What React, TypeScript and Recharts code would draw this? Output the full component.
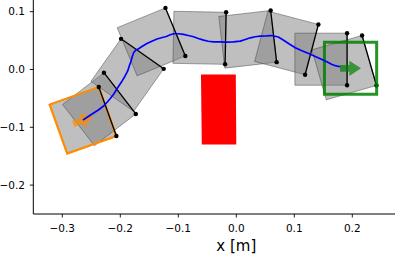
import { ComposedChart, Scatter, XAxis, YAxis } from 'recharts'

// object poses along the push (centre x, centre y in m, heading in degrees)
const boxX = [-0.2643, -0.2364, -0.1879, -0.1466, -0.0634, 0.0197, 0.0866, 0.146, 0.186]
const boxY = [-0.0879, -0.0687, -0.0097, 0.0478, 0.0548, 0.0522, 0.0459, 0.0178, 0.0032]
const boxHeading = [19.7, 37.6, 54.8, 22.4, -1.1, 6.6, -14.8, 0, 16]
const BOX_SIDE = 0.09

// trajectory of the object centre
const pathX = [
  -0.2643, -0.2552, -0.246, -0.2379, -0.2288, -0.2224, -0.2172, -0.2112, -0.2057, -0.2009, -0.1971,
  -0.1922, -0.1874, -0.1845, -0.1816, -0.1793, -0.1771, -0.1733, -0.1684, -0.1621, -0.154, -0.1466,
  -0.1367, -0.1276, -0.1207, -0.1138, -0.1081, -0.1, -0.0909, -0.0828, -0.0736, -0.0655, -0.0564,
  -0.0483, -0.0391, -0.0276, -0.016, -0.0052, 0.0069, 0.0155, 0.0241, 0.0328, 0.0414, 0.0517, 0.0616,
  0.0724, 0.0816, 0.0914, 0.1017, 0.1121, 0.1247, 0.1362, 0.1478, 0.1569, 0.165, 0.1724, 0.1793,
]
const pathY = [
  -0.0874, -0.0813, -0.0753, -0.0701, -0.0631, -0.0562, -0.0502, -0.0424, -0.0334, -0.026, -0.0202,
  -0.0121, -0.0029, 0.0061, 0.0144, 0.0225, 0.0289, 0.0337, 0.0358, 0.0401, 0.045, 0.0484, 0.0528,
  0.0554, 0.0571, 0.06, 0.0618, 0.0618, 0.0606, 0.0588, 0.0566, 0.0536, 0.0507, 0.0488, 0.0479,
  0.0476, 0.0472, 0.0479, 0.049, 0.0519, 0.0548, 0.0566, 0.0576, 0.058, 0.0588, 0.0562, 0.0507,
  0.0441, 0.0375, 0.0329, 0.0277, 0.0225, 0.0173, 0.013, 0.0087, 0.0061, 0.0047,
]

// goal pose
const goalX = 0.197
const goalY = 0.002
const goalHeading = 0
const ARROW_LEN = 0.036

// obstacle corners
const obstacleX = [-0.0609, -0.0009, 0.0, -0.0595]
const obstacleY = [-0.0087, -0.0087, -0.1298, -0.1298]

const xTicks = [-0.3, -0.2, -0.1, 0, 0.1, 0.2]
const yTicks = [-0.2, -0.1, 0, 0.1]

type Pt = { x: number; y: number }

const FONT = "'DejaVu Sans', sans-serif"

function squareCorners(cx: number, cy: number, deg: number): Pt[] {
  const t = (deg * Math.PI) / 180
  const h = BOX_SIDE / 2
  const ux = Math.cos(t) * h
  const uy = Math.sin(t) * h
  const vx = -Math.sin(t) * h
  const vy = Math.cos(t) * h
  return [
    { x: cx + ux + vx, y: cy + uy + vy },
    { x: cx + ux - vx, y: cy + uy - vy },
    { x: cx - ux - vx, y: cy - uy - vy },
    { x: cx - ux + vx, y: cy - uy + vy },
  ]
}

function arrowEnds(cx: number, cy: number, deg: number): Pt[] {
  const t = (deg * Math.PI) / 180
  const dx = (Math.cos(t) * ARROW_LEN) / 2
  const dy = (Math.sin(t) * ARROW_LEN) / 2
  return [
    { x: cx - dx, y: cy - dy },
    { x: cx + dx, y: cy + dy },
  ]
}

const toPath = (pts: Pt[], close: boolean) =>
  pts.map((p, i) => `${i ? 'L' : 'M'}${p.x},${p.y}`).join('') + (close ? 'Z' : '')

const polygon = (style: React.SVGProps<SVGPathElement>) => (props: any) => (
  <path d={toPath(props.points, true)} {...style} />
)

const polyline = (style: React.SVGProps<SVGPathElement>) => (props: any) => (
  <path d={toPath(props.points, false)} fill="none" {...style} />
)

// arrow drawn from tail to tip in pixel space
const arrow = (color: string, opacity: number) => (props: any) => {
  const [a, b] = props.points as Pt[]
  const len = Math.hypot(b.x - a.x, b.y - a.y)
  const dx = (b.x - a.x) / len
  const dy = (b.y - a.y) / len
  const nx = -dy
  const ny = dx
  const w = 3.3
  const hw = 7.6
  const hl = 11.7
  const bx = b.x - dx * hl
  const by = b.y - dy * hl
  const pts = [
    { x: a.x + nx * w, y: a.y + ny * w },
    { x: bx + nx * w, y: by + ny * w },
    { x: bx + nx * hw, y: by + ny * hw },
    b,
    { x: bx - nx * hw, y: by - ny * hw },
    { x: bx - nx * w, y: by - ny * w },
    { x: a.x - nx * w, y: a.y - ny * w },
  ]
  return <path d={toPath(pts, true)} fill={color} fillOpacity={opacity} stroke="none" />
}

const noShape = () => <g />
const blackDot = (props: any) => <circle cx={props.cx} cy={props.cy} r={2.2} fill="#000" />

const fmt = (v: number) => (v < 0 ? '\u2212' : '') + Math.abs(v).toFixed(1)

export default function App() {
  const boxes = boxX.map((x, i) => squareCorners(x, boxY[i], boxHeading[i]))
  const path = pathX.map((x, i) => ({ x, y: pathY[i] }))
  const goal = squareCorners(goalX, goalY, goalHeading)
  const obstacle = obstacleX.map((x, i) => ({ x, y: obstacleY[i] }))

  return (
    <div
      style={{
        position: 'absolute',
        left: 0,
        top: 0,
        width: 395,
        height: 264,
        overflow: 'hidden',
        background: '#fff',
      }}
    >
      <ComposedChart width={440} height={264} margin={{ top: 0, right: 0.7, bottom: 0, left: 0 }}>
        <XAxis
          type="number"
          dataKey="x"
          domain={[-0.35, 0.35]}
          ticks={xTicks}
          allowDataOverflow
          tickFormatter={fmt}
          height={50}
          tickSize={3.5}
          tickMargin={6.9}
          axisLine={{ stroke: '#000', strokeWidth: 1 }}
          tickLine={{ stroke: '#000', strokeWidth: 0.9 }}
          tick={{ fontSize: 10.5, fill: '#000', fontFamily: FONT }}
          label={{ value: 'x [m]', position: 'insideBottom', offset: 13, fontSize: 15, fill: '#000', fontFamily: FONT }}
        />
        <YAxis
          type="number"
          dataKey="y"
          domain={[-0.25, 0.1202]}
          ticks={yTicks}
          allowDataOverflow
          tickFormatter={fmt}
          width={33.3}
          tickSize={3.5}
          tickMargin={4.8}
          axisLine={{ stroke: '#000', strokeWidth: 1 }}
          tickLine={{ stroke: '#000', strokeWidth: 0.9 }}
          tick={{ fontSize: 10.5, fill: '#000', fontFamily: FONT }}
        />
        <Scatter
          data={obstacle}
          line={polygon({ fill: '#ff0000', stroke: 'none' })}
          shape={noShape}
          isAnimationActive={false}
        />
        {boxes.map((c, i) => (
          <Scatter
            key={`box-${i}`}
            data={c}
            line={polygon({
              fill: '#808080',
              fillOpacity: 0.5,
              stroke: '#404040',
              strokeOpacity: 0.6,
              strokeWidth: 0.8,
            })}
            shape={noShape}
            isAnimationActive={false}
          />
        ))}
        <Scatter
          data={boxes[0]}
          line={polygon({ fill: 'none', stroke: '#ff8c00', strokeWidth: 2.2, strokeLinejoin: 'miter' })}
          shape={noShape}
          isAnimationActive={false}
        />
        {boxes.map((c, i) => (
          <Scatter
            key={`edge-${i}`}
            data={c.slice(0, 2)}
            line={polyline({ stroke: '#000', strokeWidth: 1.3 })}
            shape={blackDot}
            isAnimationActive={false}
          />
        ))}
        <Scatter
          data={goal}
          line={polygon({ fill: 'none', stroke: '#008000', strokeOpacity: 0.85, strokeWidth: 3, strokeLinejoin: 'miter' })}
          shape={noShape}
          isAnimationActive={false}
        />
        <Scatter
          data={arrowEnds(boxX[0], boxY[0], boxHeading[0])}
          line={arrow('#ff8c00', 0.7)}
          shape={noShape}
          isAnimationActive={false}
        />
        <Scatter
          data={arrowEnds(goalX, goalY, goalHeading)}
          line={arrow('#008000', 0.7)}
          shape={noShape}
          isAnimationActive={false}
        />
        <Scatter
          data={path}
          line={polyline({ stroke: '#0000ff', strokeWidth: 1.7, strokeLinejoin: 'round' })}
          shape={noShape}
          isAnimationActive={false}
        />
      </ComposedChart>
    </div>
  )
}
